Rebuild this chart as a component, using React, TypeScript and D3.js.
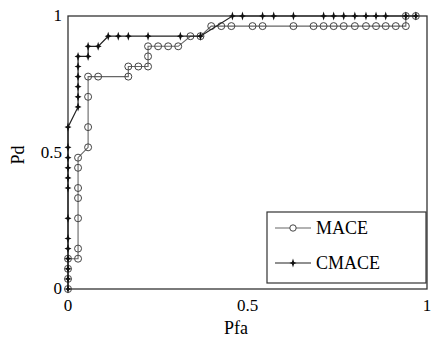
import { useRef, useEffect } from "react";
import * as d3 from "d3";

// MACE curve
const macePfa = [0, 0, 0, 0, 0.028, 0.028, 0.028, 0.028, 0.028, 0.028, 0.028, 0.056, 0.056, 0.056, 0.056, 0.084, 0.168, 0.168, 0.196, 0.223, 0.223, 0.223, 0.251, 0.279, 0.307, 0.341, 0.369, 0.399, 0.427, 0.455, 0.514, 0.542, 0.628, 0.684, 0.712, 0.740, 0.768, 0.799, 0.830, 0.858, 0.885, 0.913, 0.941, 0.941, 0.969]
const macePd = [0, 0.037, 0.074, 0.111, 0.111, 0.148, 0.259, 0.333, 0.370, 0.444, 0.481, 0.519, 0.593, 0.704, 0.778, 0.778, 0.778, 0.815, 0.815, 0.815, 0.852, 0.889, 0.889, 0.889, 0.889, 0.926, 0.926, 0.963, 0.963, 0.963, 0.963, 0.963, 0.963, 0.963, 0.963, 0.963, 0.963, 0.963, 0.963, 0.963, 0.963, 0.963, 0.963, 1, 1]

// CMACE curve
const cmacePfa = [0, 0, 0, 0, 0, 0, 0, 0, 0, 0, 0, 0, 0, 0.028, 0.028, 0.028, 0.028, 0.028, 0.028, 0.056, 0.056, 0.084, 0.112, 0.140, 0.168, 0.223, 0.313, 0.369, 0.458, 0.486, 0.542, 0.573, 0.628, 0.712, 0.740, 0.768, 0.799, 0.830, 0.858, 0.885, 0.941, 0.969]
const cmacePd = [0, 0.037, 0.074, 0.111, 0.148, 0.185, 0.259, 0.370, 0.407, 0.444, 0.481, 0.519, 0.593, 0.667, 0.704, 0.741, 0.778, 0.815, 0.852, 0.852, 0.889, 0.889, 0.926, 0.926, 0.926, 0.926, 0.926, 0.926, 1, 1, 1, 1, 1, 1, 1, 1, 1, 1, 1, 1, 1, 1]

const tickValues = [0, 0.5, 1]
const tickLabels = ["0", "0.5", "1"]
const seriesNames = ["MACE", "CMACE"]

const starPath = "M0,-4.5 L1.1,-1.1 L3.5,0 L1.1,1.1 L0,4.5 L-1.1,1.1 L-3.5,0 L-1.1,-1.1 Z"

const App = () => {
    const graphRef = useRef(null)
    const gWidth = 441
    const gHeight = 342

    useEffect(() => {
        const svg = d3.select(graphRef.current)
        svg.selectAll("*").remove()
        const font = "'Liberation Serif', 'Times New Roman', Times, serif"

        const xScale = d3.scaleLinear().domain([0, 1]).range([68, 427])
        const yScale = d3.scaleLinear().domain([0, 1]).range([289, 16])

        // frame
        svg.append("rect")
            .attr("x", xScale(0)).attr("y", yScale(1))
            .attr("width", xScale(1) - xScale(0))
            .attr("height", yScale(0) - yScale(1))
            .attr("fill", "none").attr("stroke", "#333").attr("stroke-width", 1.3)

        // tick labels
        svg.selectAll(".xt").data(tickValues).enter().append("text")
            .attr("x", d => xScale(d)).attr("y", 311)
            .attr("text-anchor", "middle")
            .style("font-family", font).style("font-size", "17px")
            .text((d, i) => tickLabels[i])
        svg.selectAll(".yt").data(tickValues).enter().append("text")
            .attr("x", 62).attr("y", d => yScale(d) + 5)
            .attr("text-anchor", "end")
            .style("font-family", font).style("font-size", "17px")
            .text((d, i) => tickLabels[i])

        svg.append("text")
            .attr("x", 236).attr("y", 334).attr("text-anchor", "middle")
            .style("font-family", font).style("font-size", "18px")
            .text("Pfa")
        svg.append("text")
            .attr("transform", "translate(24,155) rotate(-90)")
            .attr("text-anchor", "middle")
            .style("font-family", font).style("font-size", "18px")
            .text("Pd")

        const maceData = macePfa.map((x, i) => [x, macePd[i]])
        const cmaceData = cmacePfa.map((x, i) => [x, cmacePd[i]])
        const line = d3.line().x(d => xScale(d[0])).y(d => yScale(d[1]))

        svg.append("path").datum(maceData).attr("d", line)
            .attr("fill", "none").attr("stroke", "#666").attr("stroke-width", 1.1)
        svg.selectAll(".mc").data(maceData).enter().append("circle")
            .attr("cx", d => xScale(d[0])).attr("cy", d => yScale(d[1]))
            .attr("r", 3.5).attr("fill", "none").attr("stroke", "#444").attr("stroke-width", 1)

        svg.append("path").datum(cmaceData).attr("d", line)
            .attr("fill", "none").attr("stroke", "#222").attr("stroke-width", 1.2)
        svg.selectAll(".cs").data(cmaceData).enter().append("path")
            .attr("d", starPath)
            .attr("transform", d => `translate(${xScale(d[0])},${yScale(d[1])})`)
            .attr("fill", "#111")

        // legend
        const lg = svg.append("g")
        lg.append("rect")
            .attr("x", 267).attr("y", 212).attr("width", 159).attr("height", 71)
            .attr("fill", "white").attr("stroke", "#333").attr("stroke-width", 1.2)
        const rows = [228, 263]
        rows.forEach((ry, i) => {
            lg.append("line")
                .attr("x1", 275).attr("x2", 311).attr("y1", ry).attr("y2", ry)
                .attr("stroke", i === 0 ? "#666" : "#222").attr("stroke-width", 1.2)
            if (i === 0) {
                lg.append("circle").attr("cx", 293).attr("cy", ry).attr("r", 3.2)
                    .attr("fill", "white").attr("stroke", "#444")
            } else {
                lg.append("path").attr("d", starPath)
                    .attr("transform", `translate(293,${ry})`).attr("fill", "#111")
            }
            lg.append("text")
                .attr("x", 316).attr("y", ry + 6)
                .style("font-family", font).style("font-size", "18px")
                .text(seriesNames[i])
        })
    }, [])

    return (
        <svg ref={graphRef} width={gWidth} height={gHeight}
            style={{ position: "absolute", left: 0, top: 0, background: "white" }}></svg>
    )
}

export default App;
